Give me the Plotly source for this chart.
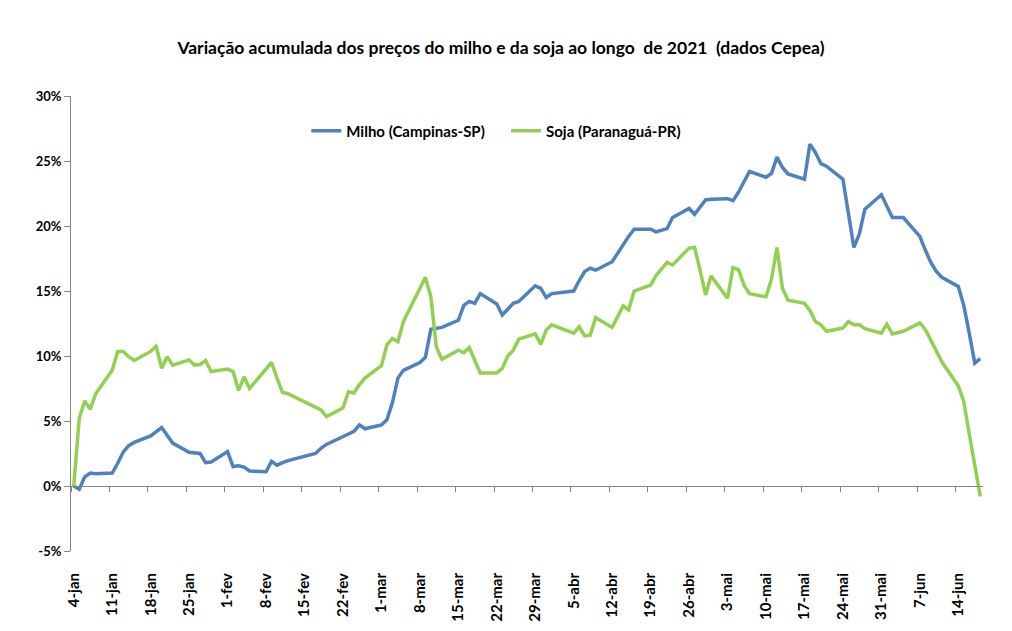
import plotly.graph_objects as go
import datetime as _dt

dates = [
    "2021-01-04","2021-01-05","2021-01-06","2021-01-07","2021-01-08",
    "2021-01-11","2021-01-12","2021-01-13","2021-01-14","2021-01-15",
    "2021-01-18","2021-01-19","2021-01-20","2021-01-21","2021-01-22",
    "2021-01-25","2021-01-26","2021-01-27","2021-01-28","2021-01-29",
    "2021-02-01","2021-02-02","2021-02-03","2021-02-04","2021-02-05",
    "2021-02-08","2021-02-09","2021-02-10","2021-02-11","2021-02-12",
    "2021-02-17","2021-02-18","2021-02-19",
    "2021-02-22","2021-02-23","2021-02-24","2021-02-25","2021-02-26",
    "2021-03-01","2021-03-02","2021-03-03","2021-03-04","2021-03-05",
    "2021-03-08","2021-03-09","2021-03-10","2021-03-11","2021-03-12",
    "2021-03-15","2021-03-16","2021-03-17","2021-03-18","2021-03-19",
    "2021-03-22","2021-03-23","2021-03-24","2021-03-25","2021-03-26",
    "2021-03-29","2021-03-30","2021-03-31","2021-04-01",
    "2021-04-05","2021-04-06","2021-04-07","2021-04-08","2021-04-09",
    "2021-04-12","2021-04-13","2021-04-14","2021-04-15","2021-04-16",
    "2021-04-19","2021-04-20","2021-04-22","2021-04-23",
    "2021-04-26","2021-04-27","2021-04-28","2021-04-29","2021-04-30",
    "2021-05-03","2021-05-04","2021-05-05","2021-05-06","2021-05-07",
    "2021-05-10","2021-05-11","2021-05-12","2021-05-13","2021-05-14",
    "2021-05-17","2021-05-18","2021-05-19","2021-05-20","2021-05-21",
    "2021-05-24","2021-05-25","2021-05-26","2021-05-27","2021-05-28",
    "2021-05-31","2021-06-01","2021-06-02","2021-06-04",
    "2021-06-07","2021-06-08","2021-06-09","2021-06-10","2021-06-11",
    "2021-06-14","2021-06-15","2021-06-16","2021-06-17","2021-06-18",
]

milho = [
    0.0, -0.25, 0.7, 1.0, 0.95,
    1.0, 1.75, 2.6, 3.1, 3.35,
    3.85, 4.2, 4.5, 3.9, 3.3,
    2.6, 2.55, 2.5, 1.8, 1.85,
    2.65, 1.5, 1.55, 1.45, 1.15,
    1.1, 1.9, 1.6, 1.8, 1.95,
    2.5, 2.9, 3.2,
    3.75, 4.0, 4.2, 4.7, 4.4,
    4.7, 5.1, 6.4, 8.3, 8.9,
    9.5, 9.9, 12.05, 12.1, 12.2,
    12.75, 13.9, 14.2, 14.05, 14.8,
    14.0, 13.15, 13.65, 14.05, 14.2,
    15.4, 15.2, 14.5, 14.8,
    15.0, 15.8, 16.5, 16.75, 16.6,
    17.25, 17.9, 18.6, 19.2, 19.75,
    19.75, 19.55, 19.8, 20.65,
    21.35, 20.9, 21.5, 22.0, 22.05,
    22.1, 21.95, 22.6, 23.4, 24.2,
    23.75, 24.05, 25.3, 24.5, 24.0,
    23.6, 26.3, 25.65, 24.8, 24.6,
    23.6, 21.0, 18.35, 19.4, 21.3,
    22.4, 21.5, 20.65, 20.65,
    19.2, 18.15, 17.2, 16.5, 16.05,
    15.35, 13.9, 11.75, 9.45, 9.8,
]

soja = [
    0.0, 5.2, 6.55, 5.9, 7.1,
    8.9, 10.35, 10.35, 9.95, 9.65,
    10.35, 10.75, 9.05, 9.95, 9.3,
    9.7, 9.3, 9.35, 9.65, 8.8,
    9.0, 8.8, 7.35, 8.4, 7.5,
    9.05, 9.5, 8.3, 7.2, 7.1,
    6.1, 5.85, 5.35,
    6.0, 7.25, 7.15, 7.8, 8.3,
    9.25, 10.85, 11.35, 11.1, 12.65,
    15.2, 16.05, 14.55, 10.7, 9.75,
    10.45, 10.25, 10.65, 9.65, 8.7,
    8.7, 9.05, 10.0, 10.45, 11.3,
    11.7, 10.9, 12.0, 12.4,
    11.75, 12.25, 11.55, 11.6, 12.95,
    12.2, 13.0, 13.85, 13.55, 15.0,
    15.45, 16.2, 17.2, 17.0,
    18.3, 18.35, 16.6, 14.7, 16.15,
    14.45, 16.8, 16.65, 15.45, 14.8,
    14.55, 15.9, 18.35, 15.2, 14.3,
    14.05, 13.5, 12.65, 12.4, 11.9,
    12.15, 12.65, 12.4, 12.4, 12.1,
    11.75, 12.45, 11.7, 11.9,
    12.55, 12.05, 11.2, 10.3, 9.55,
    7.7, 6.5, 4.0, 1.6, -0.8,
]

tick_dates = [
    "2021-01-04","2021-01-11","2021-01-18","2021-01-25",
    "2021-02-01","2021-02-08","2021-02-15","2021-02-22",
    "2021-03-01","2021-03-08","2021-03-15","2021-03-22","2021-03-29",
    "2021-04-05","2021-04-12","2021-04-19","2021-04-26",
    "2021-05-03","2021-05-10","2021-05-17","2021-05-24","2021-05-31",
    "2021-06-07","2021-06-14",
]
tick_labels = [
    "4-jan","11-jan","18-jan","25-jan",
    "1-fev","8-fev","15-fev","22-fev",
    "1-mar","8-mar","15-mar","22-mar","29-mar",
    "5-abr","12-abr","19-abr","26-abr",
    "3-mai","10-mai","17-mai","24-mai","31-mai",
    "7-jun","14-jun",
]
y_tick_vals = [-5, 0, 5, 10, 15, 20, 25, 30]
y_tick_labels = ["-5%", "0%", "5%", "10%", "15%", "20%", "25%", "30%"]

title_text = "Variação acumulada dos preços do milho e da soja ao longo  de 2021  (dados Cepea)"
x_range = ["2021-01-03 12:00", "2021-06-18 12:00"]
y_range = [-5, 30]

FONT = "Lato"
AXIS_GREY = "#868686"

# tick marks sit on week boundaries (half a day before each Monday)
mark_vals = [(_dt.datetime.fromisoformat(d) - _dt.timedelta(hours=12)).strftime("%Y-%m-%d %H:%M")
             for d in tick_dates]

fig = go.Figure()
fig.add_trace(go.Scatter(
    x=dates, y=milho, mode="lines", name="Milho (Campinas-SP)",
    line=dict(color="#4F81BD", width=3.5), legend="legend",
))
fig.add_trace(go.Scatter(
    x=dates, y=soja, mode="lines", name="Soja (Paranaguá-PR)",
    line=dict(color="#92D050", width=3.5), legend="legend2",
))
# invisible trace so xaxis2 (the axis line at 0%) is drawn
fig.add_trace(go.Scatter(x=[dates[0]], y=[0], xaxis="x2", mode="markers",
                         marker=dict(opacity=0), showlegend=False, hoverinfo="skip"))

legend_font = dict(family=FONT, size=15, color="black", weight="bold")

fig.update_layout(
    width=1012, height=631,
    margin=dict(l=71, r=29, t=96, b=80),
    paper_bgcolor="white", plot_bgcolor="white",
    font=dict(family=FONT, color="black"),
    title=dict(
        text="<b>" + title_text.replace("  ", "&nbsp; ") + "</b>",
        x=0.495, xanchor="center", y=1 - 48 / 631, yanchor="middle",
        font=dict(family=FONT, size=17.5, color="black"),
    ),
    showlegend=True,
    legend=dict(
        orientation="h", x=0.258, xanchor="left", y=0.923, yanchor="middle",
        bgcolor="rgba(0,0,0,0)", font=legend_font, itemwidth=30,
    ),
    legend2=dict(
        orientation="h", x=0.477, xanchor="left", y=0.923, yanchor="middle",
        bgcolor="rgba(0,0,0,0)", font=legend_font, itemwidth=30,
    ),
    xaxis=dict(
        type="date", range=x_range, automargin=False,
        tickmode="array", tickvals=tick_dates, ticktext=tick_labels,
        tickangle=-90, ticks="outside", ticklen=15, tickcolor="rgba(0,0,0,0)",
        showline=False, showgrid=False, zeroline=False,
        tickfont=dict(family=FONT, size=15, color="black", weight="bold"),
    ),
    xaxis2=dict(
        type="date", range=x_range, overlaying="x", anchor="free", automargin=False,
        position=(0 - y_range[0]) / (y_range[1] - y_range[0]),
        tickmode="array", tickvals=mark_vals, showticklabels=False,
        ticks="outside", ticklen=5, tickcolor=AXIS_GREY, tickwidth=1,
        showline=True, linecolor=AXIS_GREY, linewidth=1,
        showgrid=False, zeroline=False,
    ),
    yaxis=dict(
        range=y_range, tickmode="array", tickvals=y_tick_vals, ticktext=y_tick_labels,
        automargin=False,
        ticks="outside", ticklen=6, tickcolor=AXIS_GREY,
        showline=True, linecolor=AXIS_GREY, linewidth=1,
        showgrid=False, zeroline=False,
        tickfont=dict(family=FONT, size=13, color="black", weight="bold"),
    ),
)

fig.write_html("out.html")
